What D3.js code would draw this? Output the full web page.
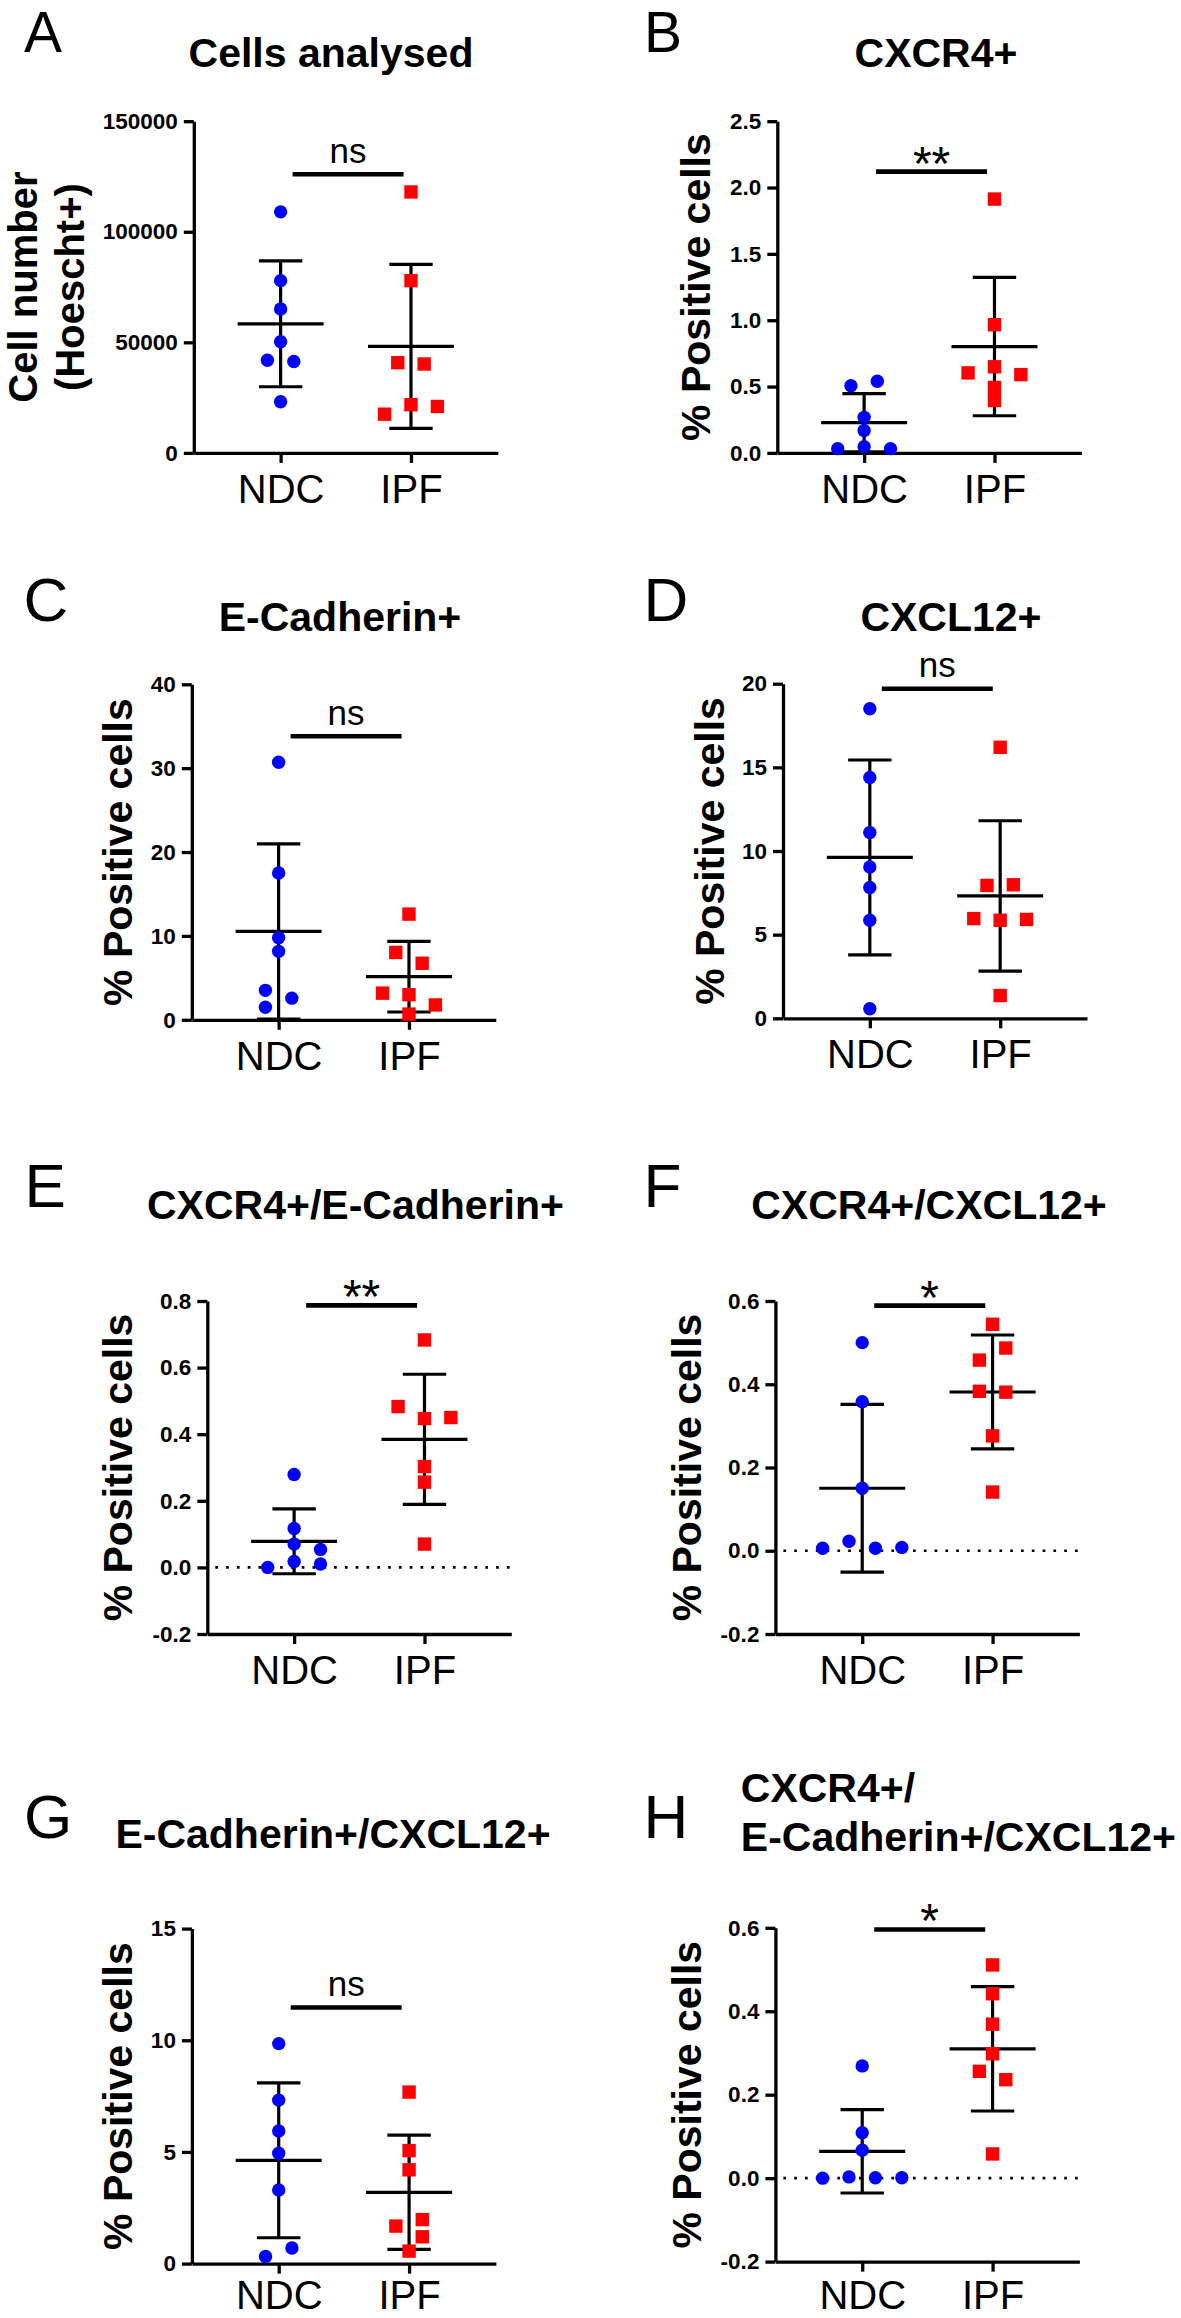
<!DOCTYPE html>
<html lang="en">
<head>
<meta charset="utf-8">
<title>NDC vs IPF</title>
<script src="https://cdn.jsdelivr.net/npm/d3@7"></script>
<style>
  body { margin: 0; background: #fff; }
  svg { display: block; font-family: "Liberation Sans", Arial, sans-serif; }
</style>
</head>
<body>
<script>

// groups on every x axis
var groups = ["NDC", "IPF"];

// A - cells analysed
var cellsNDC = [109000, 77900, 65100, 50300, 41900, 41300, 23100];
var cellsIPF = [118000, 77900, 40800, 40200, 21800, 21000, 17500];
var ticksA = [0, 50000, 100000, 150000];

// B - CXCR4+
var cxcr4NDC = [0.506, 0.540, 0.268, 0.169, 0.047, 0.032, 0.032];
var cxcr4IPF = [1.913, 0.966, 0.649, 0.590, 0.603, 0.493, 0.395];
var ticksB = [0, 0.5, 1.0, 1.5, 2.0, 2.5];

// C - E-Cadherin+
var ecadNDC = [30.7, 17.5, 9.78, 8.16, 3.51, 2.58, 1.50];
var ecadIPF = [12.6, 8.03, 6.74, 2.99, 1.77, 3.18, 0.68];
var ticksC = [0, 10, 20, 30, 40];

// D - CXCL12+
var cxcl12NDC = [18.5, 14.4, 11.1, 9.05, 7.82, 5.86, 0.57];
var cxcl12IPF = [16.2, 7.94, 7.98, 5.86, 5.91, 5.96, 1.36];
var ticksD = [0, 5, 10, 15, 20];

// E - CXCR4+/E-Cadherin+
var cxEcNDC = [0.279, 0.117, 0.070, 0.054, 0.018, 0.010, 0.000];
var cxEcIPF = [0.683, 0.447, 0.450, 0.483, 0.303, 0.256, 0.070];
var ticksE = [-0.2, 0, 0.2, 0.4, 0.6, 0.8];

// F - CXCR4+/CXCL12+
var cxClNDC = [0.500, 0.358, 0.150, 0.023, 0.006, 0.006, 0.008];
var cxClIPF = [0.544, 0.458, 0.487, 0.383, 0.381, 0.276, 0.141];
var ticksF = [-0.2, 0, 0.2, 0.4, 0.6];

// G - E-Cadherin+/CXCL12+
var ecClNDC = [9.85, 7.32, 5.94, 4.94, 3.30, 0.32, 0.70];
var ecClIPF = [7.68, 5.06, 4.20, 1.68, 1.97, 1.20, 0.56];
var ticksG = [0, 5, 10, 15];

// H - CXCR4+/E-Cadherin+/CXCL12+
var tripleNDC = [0.269, 0.109, 0.067, 0.003, 0.001, 0.000, 0.001];
var tripleIPF = [0.511, 0.442, 0.369, 0.298, 0.256, 0.236, 0.058];
var ticksH = [-0.2, 0, 0.2, 0.4, 0.6];

var fmtInt = function(d){ return String(d); };
var fmt1 = function(d){ return d.toFixed(1); };

// layout of each panel (pixels), data comes from the arrays above
var panels = [
  {letter:"A", lx:24, ly:52, lsize:57, title:["Cells analysed"], tx:331, ty:[67], ndc:cellsNDC, ipf:cellsIPF, ticks:ticksA, fmt:fmtInt,
   left:193.8, top:121.2, bottom:452.9, ylab:["Cell number","(Hoescht+)"], ylx:[36.5, 84], ylsize:40, sig:"ns", sigAt:126000},
  {letter:"B", lx:644, ly:52, lsize:57, title:["CXCR4+"], tx:936, ty:[67], ndc:cxcr4NDC, ipf:cxcr4IPF, ticks:ticksB, fmt:fmt1,
   left:777.3, top:121.2, bottom:452.9, ylab:["% Positive cells"], ylx:[710], ylsize:41, sig:"**", sigAt:2.12},
  {letter:"C", lx:23.5, ly:621, title:["E-Cadherin+"], tx:340, ty:[630.6], ndc:ecadNDC, ipf:ecadIPF, ticks:ticksC, fmt:fmtInt,
   left:191.8, top:684.3, bottom:1019.8, ylab:["% Positive cells"], ylx:[131.7], ylsize:41, sig:"ns", sigAt:33.8},
  {letter:"D", lx:643.6, ly:621, title:["CXCL12+"], tx:951, ty:[630.6], ndc:cxcl12NDC, ipf:cxcl12IPF, ticks:ticksD, fmt:fmtInt,
   left:783, top:683.7, bottom:1018.3, ylab:["% Positive cells"], ylx:[723.8], ylsize:41, sig:"ns", sigAt:19.7},
  {letter:"E", lx:24.5, ly:1207, title:["CXCR4+/E-Cadherin+"], tx:355.5, ty:[1218.6], ndc:cxEcNDC, ipf:cxEcIPF, ticks:ticksE, fmt:fmt1,
   left:207.3, top:1301, bottom:1634, ylab:["% Positive cells"], ylx:[131.7], ylsize:41, sig:"**", sigAt:0.787},
  {letter:"F", lx:643.6, ly:1207, title:["CXCR4+/CXCL12+"], tx:929, ty:[1218.6], ndc:cxClNDC, ipf:cxClIPF, ticks:ticksF, fmt:fmt1,
   left:775.4, top:1301, bottom:1634, ylab:["% Positive cells"], ylx:[701.2], ylsize:41, sig:"*", sigAt:0.589},
  {letter:"G", lx:24, ly:1838, title:["E-Cadherin+/CXCL12+"], tx:333, ty:[1847.8], ndc:ecClNDC, ipf:ecClIPF, ticks:ticksG, fmt:fmtInt,
   left:191.9, top:1928.6, bottom:2263.6, ylab:["% Positive cells"], ylx:[131.7], ylsize:41, sig:"ns", sigAt:11.47},
  {letter:"H", lx:643.6, ly:1838, title:["CXCR4+/","E-Cadherin+/CXCL12+"], tx:740.8, tAnchor:"start", ty:[1801.7, 1851], ndc:tripleNDC, ipf:tripleIPF, ticks:ticksH, fmt:fmt1,
   left:775.4, top:1927.8, bottom:2261.6, ylab:["% Positive cells"], ylx:[701.2], ylsize:41, sig:"*", sigAt:0.596}
];

var W = 1181, H = 2318;
var plotW = 304;
var dotR = 6.7, sq = 13.4;
var halfStep = 13.2;     // horizontal spread unit for overlapping points
var overlap = 12.5;      // vertical distance below which points collide

var svg = d3.select("body").append("svg").attr("width", W).attr("height", H);

// place overlapping points side by side, roughly the way Prism scatters them
function spread(values, y) {
  var cand = [0, 2, -2, 4, -4, 6, -6];
  var placed = [];
  values.forEach(function(v){
    var py = y(v);
    var slot = cand.find(function(c){
      return placed.every(function(p){ return Math.abs(p.py - py) >= overlap || Math.abs(p.slot - c) >= 2; });
    });
    placed.push({v:v, py:py, slot:slot});
  });
  var sorted = placed.slice().sort(function(a,b){ return a.py - b.py; });
  var run = [sorted[0]];
  function centre(){
    var lo = d3.min(run, function(d){ return d.slot; }), hi = d3.max(run, function(d){ return d.slot; });
    run.forEach(function(d){ d.slot -= (lo + hi) / 2; });
  }
  for (var k = 1; k < sorted.length; k++) {
    if (sorted[k].py - sorted[k-1].py < overlap) run.push(sorted[k]);
    else { centre(); run = [sorted[k]]; }
  }
  centre();
  return placed;
}

panels.forEach(function(p){
  var y = d3.scaleLinear().domain([p.ticks[0], p.ticks[p.ticks.length-1]]).range([p.bottom, p.top]);
  var x = d3.scalePoint().domain(groups).range([0, plotW]).padding(0.666);
  var g = svg.append("g").attr("transform", "translate(" + p.left + ",0)");

  // panel letter
  svg.append("text").attr("x", p.lx).attr("y", p.ly).attr("font-size", p.lsize || 62).text(p.letter);

  // title
  p.title.forEach(function(t, i){
    svg.append("text").attr("x", p.tx).attr("y", p.ty[i])
      .attr("text-anchor", p.tAnchor || "middle")
      .attr("font-size", 41).attr("font-weight", "bold").text(t);
  });

  // y label
  var cy = (p.top + p.bottom) / 2;
  p.ylab.forEach(function(t, i){
    svg.append("text").attr("transform", "translate(" + p.ylx[i] + "," + cy + ") rotate(-90)")
      .attr("text-anchor", "middle").attr("font-size", p.ylsize).attr("font-weight", "bold").text(t);
  });

  // dotted zero line
  if (p.ticks[0] < 0) {
    g.append("line").attr("x1", 8).attr("x2", plotW).attr("y1", y(0)).attr("y2", y(0))
      .attr("stroke", "#000").attr("stroke-width", 2.7).attr("stroke-dasharray", "2.7 8.1");
  }

  // axes
  var ya = g.append("g").call(d3.axisLeft(y).tickValues(p.ticks).tickFormat(p.fmt)
      .tickSize(10).tickPadding(6).tickSizeOuter(0));
  ya.attr("font-family", null).attr("font-size", 22.5).attr("font-weight", "bold");
  ya.selectAll("path, line").attr("stroke-width", 3.3);
  ya.selectAll("text").attr("fill", "#000");

  // category labels sit 50px under the axis, but stay inside the page
  var labY = Math.min(50, H - 9 - p.bottom);
  var xa = g.append("g").attr("transform", "translate(0," + p.bottom + ")")
    .call(d3.axisBottom(x).tickSize(10).tickSizeOuter(0));
  xa.attr("font-family", null).attr("font-size", 40);
  xa.selectAll("path, line").attr("stroke-width", 3.3);
  xa.selectAll("text").attr("y", labY).attr("dy", 0).attr("fill", "#000");

  // significance bar
  var sy = y(p.sigAt);
  var sx0 = x("NDC") + 12, sx1 = x("IPF") - 7.4;
  g.append("line").attr("x1", sx0).attr("x2", sx1).attr("y1", sy).attr("y2", sy)
    .attr("stroke", "#000").attr("stroke-width", 4.6);
  var star = p.sig !== "ns";
  g.append("text").attr("x", (sx0 + sx1) / 2).attr("y", star ? sy + 8 : sy - 11.5)
    .attr("text-anchor", "middle").attr("font-size", star ? 48 : 35).text(p.sig);

  // mean and SD, then the points on top
  [["NDC", p.ndc], ["IPF", p.ipf]].forEach(function(s){
    var cx = x(s[0]);
    var m = d3.mean(s[1]), sd = d3.deviation(s[1]);
    var eb = g.append("g").attr("stroke", "#000").attr("stroke-width", 3.2);
    eb.append("line").attr("x1", cx).attr("x2", cx).attr("y1", y(m + sd)).attr("y2", y(m - sd));
    eb.append("line").attr("x1", cx - 43).attr("x2", cx + 43).attr("y1", y(m)).attr("y2", y(m));
    eb.append("line").attr("x1", cx - 21.7).attr("x2", cx + 21.7).attr("y1", y(m + sd)).attr("y2", y(m + sd));
    eb.append("line").attr("x1", cx - 21.7).attr("x2", cx + 21.7).attr("y1", y(m - sd)).attr("y2", y(m - sd));

    var pts = spread(s[1], y);
    var isNDC = s[0] === "NDC";
    var sym = isNDC ? d3.symbol(d3.symbolCircle, Math.PI * dotR * dotR) : d3.symbol(d3.symbolSquare, sq * sq);
    g.selectAll(null).data(pts).enter().append("path")
      .attr("d", sym)
      .attr("transform", function(d){ return "translate(" + (cx + d.slot * halfStep) + "," + d.py + ")"; })
      .attr("fill", isNDC ? "#0000ff" : "#ff0000");
  });
});

</script>
</body>
</html>
